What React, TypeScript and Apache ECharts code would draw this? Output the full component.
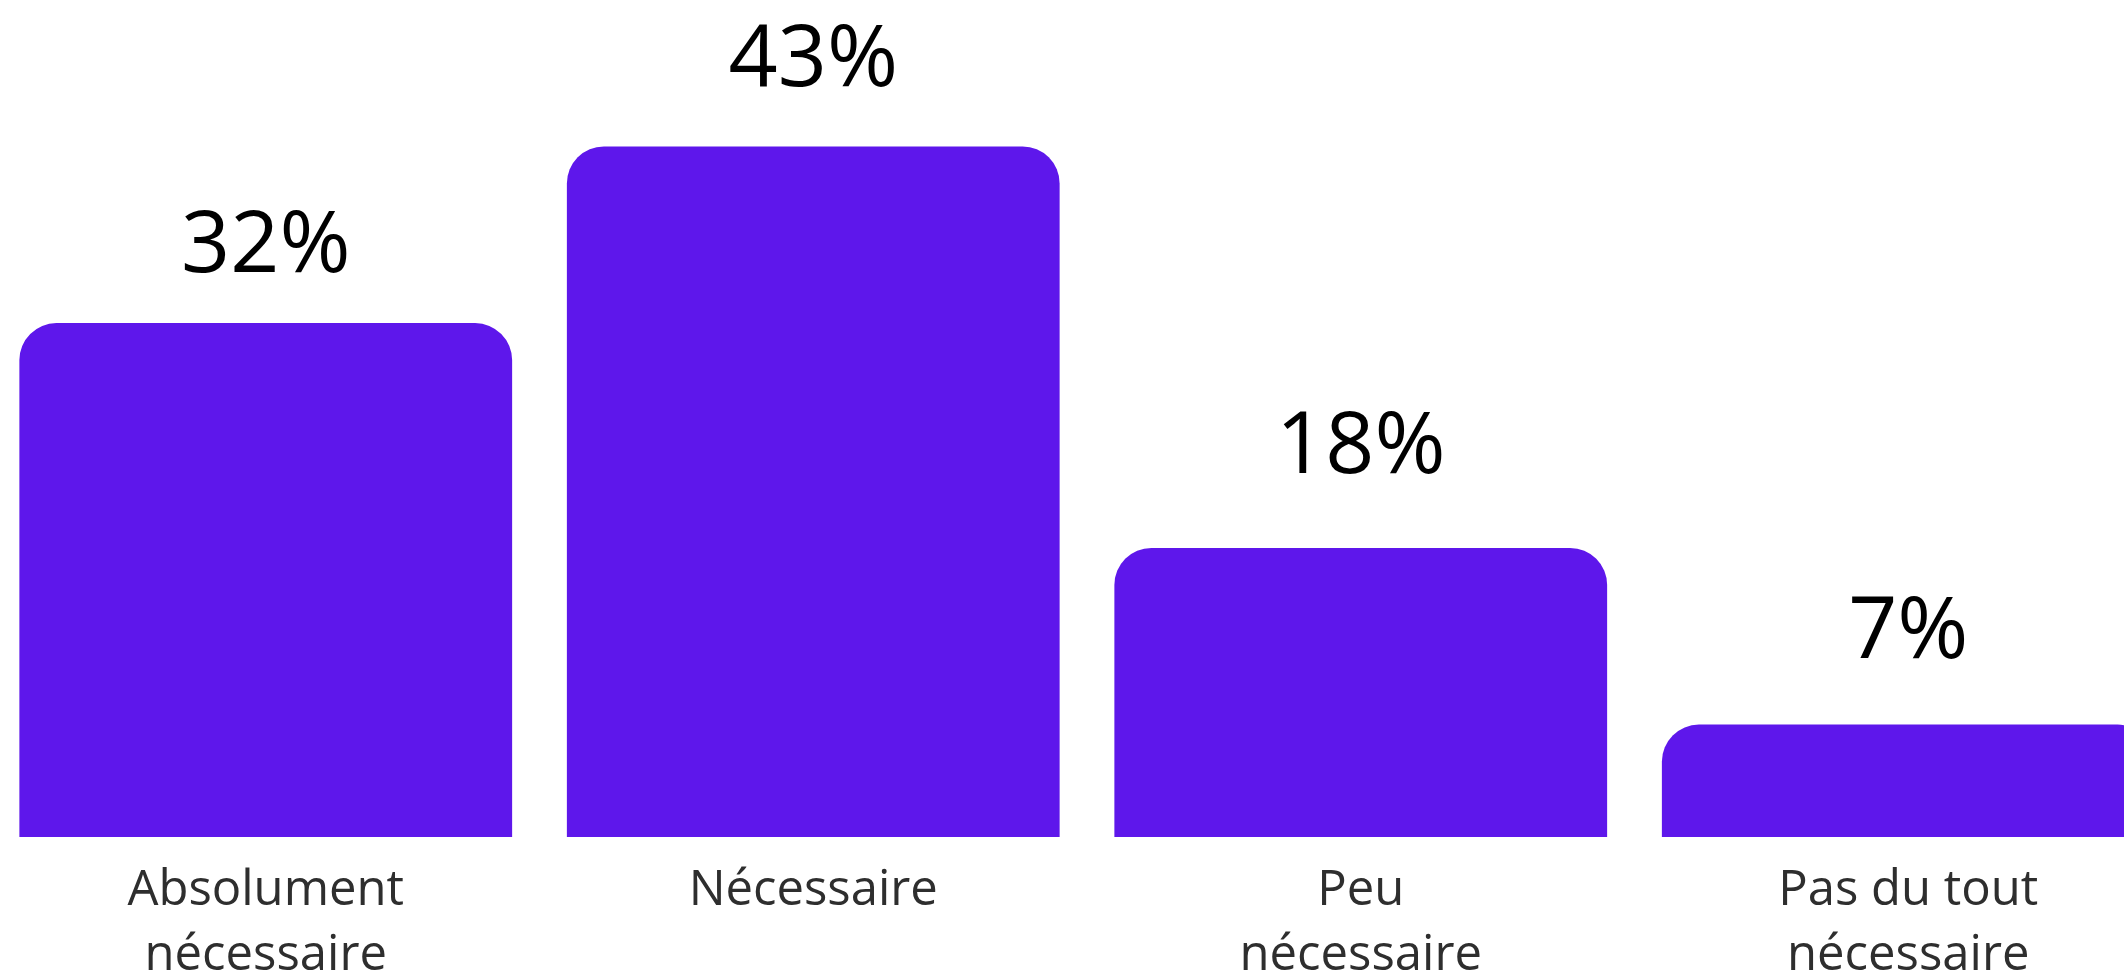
import React, { useEffect, useRef } from "react";
import * as echarts from "echarts";

const categories = ["Absolument\nnécessaire", "Nécessaire", "Peu\nnécessaire", "Pas du tout\nnécessaire"];
const values = [32, 43, 18, 7];
// gap between each bar's top and its value label, as seen in the reference
const labelDistances = [42, 51, 65, 57];

export default function App() {
  const ref = useRef<HTMLDivElement>(null);
  useEffect(() => {
    if (!ref.current) return;
    const chart = echarts.init(ref.current, null, { renderer: "svg" });
    chart.setOption({
      animation: false,
      backgroundColor: "#ffffff",
      grid: { left: 0, right: 0, top: 34, bottom: 136, containLabel: false, outerBoundsMode: "none" },
      xAxis: {
        type: "category",
        data: categories,
        axisLine: { show: false },
        axisTick: { show: false },
        axisLabel: {
          interval: 0,
          margin: 16,
          color: "#2e2e2e",
          fontFamily: "Open Sans",
          fontSize: 49,
          lineHeight: 65,
        },
      },
      yAxis: { type: "value", min: 0, max: 50, show: false, splitLine: { show: false } },
      series: [
        {
          type: "bar",
          data: values.map((v, i) => ({ value: v, label: { distance: labelDistances[i] } })),
          barCategoryGap: "10%",
          itemStyle: { color: "#5E17EB", borderRadius: [37, 37, 0, 0] },
          label: {
            show: true,
            position: "top",
            distance: 42,
            formatter: "{c}%",
            color: "#000000",
            fontFamily: "Open Sans",
            fontSize: 86,
          },
        },
      ],
    });
    return () => chart.dispose();
  }, []);
  return (
    <div style={{ position: "fixed", left: 0, top: 0, width: 2124, height: 973, overflow: "hidden", background: "#fff" }}>
      <div ref={ref} style={{ position: "absolute", left: -8, top: 0, width: 2190, height: 973 }} />
    </div>
  );
}
